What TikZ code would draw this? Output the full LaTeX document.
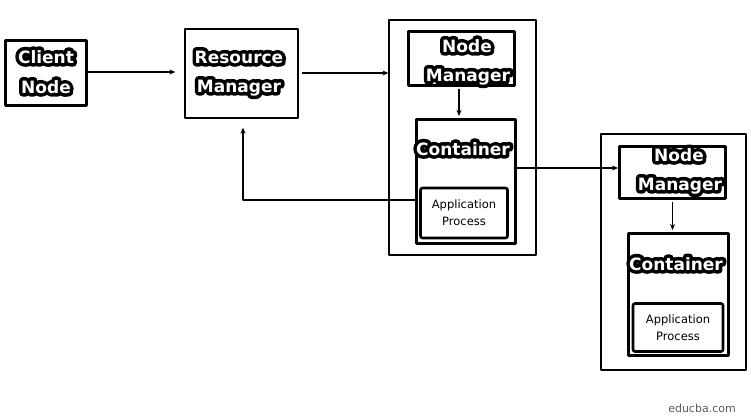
\documentclass[tikz,border=0pt]{standalone}
\usepackage{fontspec}
\setmainfont{Carlito}
\newfontfamily\wmfont{DejaVu Sans}
\newfontfamily\appfont{DejaVu Sans}
\newfontfamily\lblfont{DejaVu Sans Bold}
\newfontfamily\lblfat[FakeBold=42]{DejaVu Sans Bold}
\usetikzlibrary{arrows.meta}
\newcommand{\outl}[1]{\rlap{\lblfat\textcolor{black}{#1}}\textcolor{white}{\lblfont #1}}
\tikzset{
  thickbox/.style={draw, line width=3pt, inner sep=0pt},
  thinbox/.style={draw, line width=1.3pt, inner sep=0pt},
  appbox/.style={draw, line width=2.6pt, rounded corners=2pt, inner sep=0pt, align=center, font=\appfont\fontsize{11.5}{17}\selectfont},
  lbl/.style={anchor=base, inner sep=0pt, font=\fontsize{17}{20}\selectfont},
  arr/.style={line width=1.3pt, -{Stealth[length=6pt,width=5pt]}},
}
\begin{document}
\begin{tikzpicture}[x=1pt,y=-1pt,line join=round]
\useasboundingbox (0,0) rectangle (751,418);
% boxes
\node[thickbox, minimum width=81pt, minimum height=65pt] (client) at (45.5,72.5) {};
\node[thinbox, minimum width=113pt, minimum height=89pt] (rm) at (241.5,73.5) {};
\node[thinbox, minimum width=147pt, minimum height=235pt] (outer1) at (462.5,137.5) {};
\node[thickbox, minimum width=106pt, minimum height=54pt] (nm1) at (461.5,58) {};
\node[thickbox, minimum width=99pt, minimum height=124pt] (cont1) at (465.5,181.5) {};
\node[appbox, minimum width=87pt, minimum height=50pt] (app1) at (464,213) {Application\\Process};
\node[thinbox, minimum width=145pt, minimum height=236pt] (outer2) at (673.5,252) {};
\node[thickbox, minimum width=106pt, minimum height=52pt] (nm2) at (672.5,172) {};
\node[thickbox, minimum width=100pt, minimum height=122pt] (cont2) at (678,294.5) {};
\node[appbox, minimum width=90pt, minimum height=48pt] (app2) at (678,327.5) {Application\\Process};
% outlined labels
\node[lbl] (clientA) at (46,63) {\outl{Client}};
\node[lbl] (clientB) at (46,93) {\outl{Node}};
\node[lbl] (rmA) at (239,63) {\outl{Resource}};
\node[lbl] (rmB) at (239,92) {\outl{Manager}};
\node[lbl] (nm1A) at (467,52) {\outl{Node}};
\node[lbl] (nm1B) at (468,81) {\outl{Manager}};
\node[lbl] (c1lab) at (463,155) {\outl{Container}};
\node[lbl] (nm2A) at (679,161) {\outl{Node}};
\node[lbl] (nm2B) at (680,190) {\outl{Manager}};
\node[lbl] (c2lab) at (676,270) {\outl{Container}};
\node[text=black!65, font=\wmfont\fontsize{11}{13}\selectfont] (wm) at (702,408) {educba.com};
% connectors
\draw[arr, shorten >=9pt] (client.east |- 0,72) -- (rm.west |- 0,72);
\draw[arr, shorten <=3pt] (rm.east |- 0,73) -- (outer1.west |- 0,73);
\draw[arr, shorten <=2pt, shorten >=2pt] (nm1.south -| 459,0) -- (cont1.north -| 459,0);
\draw[arr] (cont1.east |- 0,168) -- (nm2.west |- 0,168);
\draw[arr, shorten <=2pt, shorten >=2pt] (nm2.south) -- (cont2.north -| nm2.south);
\draw[arr, shorten >=9pt] (cont1.west |- 0,200) -| (rm.south -| 243,0);
\end{tikzpicture}
\end{document}
